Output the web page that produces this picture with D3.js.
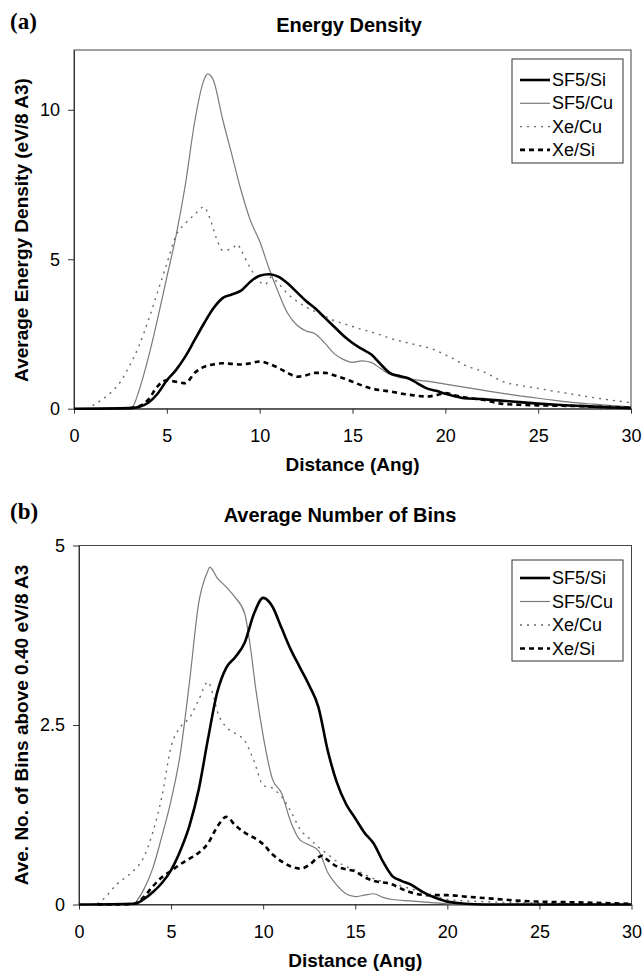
<!DOCTYPE html>
<html>
<head>
<meta charset="utf-8">
<script src="https://cdn.jsdelivr.net/npm/d3@7"></script>
<style>
  body { margin: 0; background: #fff; }
  svg { display: block; font-family: "Liberation Sans", Arial, sans-serif; }
</style>
</head>
<body>
<svg id="chart" width="644" height="973"></svg>
<script>
// series names (legend order)
const seriesNames = ['SF5/Si', 'SF5/Cu', 'Xe/Cu', 'Xe/Si'];

// panel (a) Energy Density, [distance, value]
const energySF5Si = [[0,0],[3,0.02],[3.5,0.06],[4,0.2],[4.5,0.5],[5,0.95],[5.5,1.3],[6,1.75],[6.5,2.3],[7,2.85],[7.5,3.35],[8,3.7],[8.5,3.82],[9,3.95],[9.5,4.25],[10,4.45],[10.5,4.5],[11,4.42],[11.5,4.2],[12,3.9],[12.5,3.6],[13,3.35],[13.5,3.05],[14,2.75],[14.5,2.45],[15,2.2],[15.5,2.0],[16,1.82],[16.5,1.5],[17,1.2],[17.5,1.1],[18,1.02],[18.5,0.85],[19,0.68],[19.5,0.6],[20,0.5],[20.5,0.42],[21,0.35],[22,0.32],[23,0.27],[24,0.22],[25,0.17],[26,0.13],[27,0.1],[28,0.07],[29,0.04],[30,0.02]];
const energySF5Cu = [[3,0],[3.2,0.1],[3.5,0.6],[4,1.7],[4.5,3.0],[5,4.4],[5.5,5.8],[6,7.5],[6.5,9.6],[7,11.0],[7.2,11.2],[7.5,11.0],[8,9.7],[8.5,8.5],[9,7.3],[9.5,6.3],[10,5.6],[10.5,4.7],[11,3.9],[11.5,3.2],[12,2.8],[12.5,2.6],[13,2.5],[13.5,2.2],[14,1.85],[14.5,1.65],[15,1.55],[15.5,1.6],[16,1.55],[16.5,1.35],[17,1.15],[17.5,1.05],[18,1.0],[19,0.92],[20,0.82],[21,0.72],[22,0.62],[23,0.52],[24,0.43],[25,0.35],[26,0.27],[27,0.2],[28,0.15],[29,0.1],[30,0.06]];
const energyXeCu = [[1,0.1],[1.5,0.3],[2,0.55],[2.5,0.9],[3,1.45],[3.5,2.1],[4,2.95],[4.5,3.9],[5,4.85],[5.5,5.8],[6,6.2],[6.5,6.5],[7,6.75],[7.3,6.4],[7.7,5.65],[8,5.3],[8.5,5.35],[8.8,5.5],[9,5.3],[9.5,4.7],[10,4.25],[10.3,4.15],[10.6,4.4],[11,4.2],[11.5,3.85],[12,3.6],[12.5,3.4],[13,3.25],[13.5,3.1],[14,2.95],[14.5,2.85],[15,2.75],[15.5,2.65],[16,2.57],[16.5,2.47],[17,2.36],[18,2.2],[19,2.05],[19.5,1.95],[20,1.8],[20.5,1.65],[21,1.47],[21.5,1.35],[22,1.25],[22.5,1.1],[23,0.93],[24,0.78],[25,0.68],[26,0.57],[27,0.47],[28,0.37],[29,0.28],[30,0.2]];
const energyXeSi = [[3,0.02],[3.5,0.08],[4,0.3],[4.5,0.75],[5,0.95],[5.5,0.9],[6,0.85],[6.5,1.2],[7,1.4],[7.5,1.48],[8,1.52],[8.5,1.5],[9,1.48],[9.5,1.52],[10,1.58],[10.5,1.5],[11,1.37],[11.5,1.2],[12,1.07],[12.5,1.12],[13,1.2],[13.5,1.2],[14,1.12],[14.5,1.02],[15,0.9],[15.5,0.78],[16,0.68],[16.5,0.62],[17,0.58],[18,0.47],[19,0.41],[19.5,0.45],[20,0.52],[20.5,0.45],[21,0.38],[22,0.3],[23,0.17],[24,0.13],[25,0.11],[26,0.1],[27,0.09],[28,0.07],[29,0.05],[30,0.03]];

// panel (b) Average Number of Bins, [distance, value]
const binsSF5Si = [[0,0],[3,0.01],[3.5,0.07],[4,0.17],[4.5,0.3],[5,0.48],[5.5,0.75],[6,1.1],[6.5,1.6],[7,2.3],[7.5,2.95],[8,3.3],[8.5,3.45],[9,3.65],[9.5,4.05],[10,4.27],[10.5,4.15],[11,3.85],[11.5,3.55],[12,3.3],[12.5,3.05],[13,2.75],[13.5,2.15],[14,1.7],[14.5,1.4],[15,1.2],[15.5,1.0],[16,0.85],[16.5,0.6],[17,0.4],[17.5,0.33],[18,0.28],[18.5,0.2],[19,0.13],[19.5,0.08],[20,0.04],[21,0.01],[22,0],[30,0]];
const binsSF5Cu = [[3,0],[3.5,0.2],[4,0.5],[4.5,0.95],[5,1.45],[5.5,2.1],[6,3.1],[6.5,4.2],[7,4.65],[7.1,4.7],[7.5,4.55],[8,4.42],[8.5,4.27],[9,4.05],[9.3,3.6],[9.6,3.0],[10,2.35],[10.5,1.75],[11,1.55],[11.5,1.15],[12,0.9],[12.5,0.83],[13,0.75],[13.5,0.45],[14,0.27],[14.5,0.15],[15,0.11],[15.5,0.13],[16,0.15],[16.5,0.1],[17,0.07],[18,0.05],[19,0.03],[20,0.01],[21,0],[30,0]];
const binsXeCu = [[1,0.01],[1.5,0.12],[2,0.27],[2.5,0.37],[3,0.48],[3.5,0.65],[4,1.0],[4.5,1.5],[5,2.2],[5.5,2.47],[6,2.6],[6.5,2.85],[7,3.1],[7.3,2.9],[7.5,2.7],[8,2.47],[8.5,2.38],[9,2.28],[9.5,2.0],[10,1.66],[10.5,1.62],[11,1.5],[11.5,1.3],[12,1.05],[12.5,0.92],[13,0.8],[13.5,0.7],[14,0.6],[14.5,0.53],[15,0.48],[15.5,0.42],[16,0.36],[16.5,0.32],[17,0.29],[18,0.22],[19,0.14],[20,0.07],[21,0.05],[22,0.04],[23,0.03],[25,0.02],[30,0]];
const binsXeSi = [[1,0],[2,0],[3,0.01],[3.5,0.1],[4,0.25],[4.5,0.38],[5,0.47],[5.5,0.56],[6,0.64],[6.5,0.72],[7,0.85],[7.5,1.08],[8,1.22],[8.5,1.1],[9,1.0],[9.5,0.93],[10,0.84],[10.5,0.7],[11,0.6],[11.5,0.53],[12,0.5],[12.5,0.55],[13,0.66],[13.2,0.68],[13.5,0.62],[14,0.53],[14.5,0.49],[15,0.46],[15.5,0.38],[16,0.33],[17,0.28],[17.5,0.22],[18,0.17],[19,0.13],[20,0.13],[21,0.11],[22,0.09],[23,0.07],[24,0.05],[25,0.04],[27,0.03],[30,0.01]];

// tick values
const xTicks = [0, 5, 10, 15, 20, 25, 30];
const energyTicks = [0, 5, 10];
const binsTicks = [0, 2.5, 5];

// line styles per series
const styles = [
  { stroke: '#000', width: 2.6, dash: null },
  { stroke: '#7a7a7a', width: 1.2, dash: null },
  { stroke: '#6a6a6a', width: 1.4, dash: '2,5' },
  { stroke: '#000', width: 2.6, dash: '5,4' }
];

const svg = d3.select('#chart');

function drawPanel(p) {
  const x = d3.scaleLinear().domain([0, 30]).range([p.left, p.right]);
  const y = d3.scaleLinear().domain(p.yDomain).range([p.bottom, p.top]);
  const g = svg.append('g');

  // panel letter + title
  g.append('text')
    .attr('x', 10).attr('y', p.letterY)
    .style('font-family', '"Liberation Serif", "Times New Roman", serif')
    .style('font-weight', 'bold').style('font-size', '23px')
    .text(p.letter);
  g.append('text')
    .attr('x', p.titleX).attr('y', p.titleY)
    .attr('text-anchor', 'middle')
    .style('font-weight', 'bold').style('font-size', '20px')
    .text(p.title);

  // plot frame
  g.append('rect')
    .attr('x', p.left).attr('y', p.top)
    .attr('width', p.right - p.left).attr('height', p.bottom - p.top)
    .attr('fill', 'none').attr('stroke', '#444').attr('stroke-width', 1);

  // axes
  const xAxis = g.append('g')
    .attr('transform', `translate(0,${p.bottom})`)
    .call(d3.axisBottom(x).tickValues(xTicks).tickSize(5).tickPadding(16).tickSizeOuter(0));
  const yAxis = g.append('g')
    .attr('transform', `translate(${p.left},0)`)
    .call(d3.axisLeft(y).tickValues(p.yTicks).tickSize(6).tickPadding(8).tickSizeOuter(0)
      .tickFormat(d => String(d)));
  [xAxis, yAxis].forEach(a => {
    a.selectAll('text').style('font-size', '18px').style('font-family', '"Liberation Sans", Arial, sans-serif').attr('fill', '#000');
    a.selectAll('line, path').attr('stroke', '#333');
  });

  // axis titles
  g.append('text')
    .attr('x', (p.left + p.right) / 2).attr('y', p.xTitleY)
    .attr('text-anchor', 'middle')
    .style('font-weight', 'bold').style('font-size', '19px')
    .text('Distance (Ang)');
  g.append('text')
    .attr('transform', `translate(${p.yTitleX},${p.yTitleY}) rotate(-90)`)
    .attr('text-anchor', 'middle')
    .style('font-weight', 'bold').style('font-size', '19px')
    .text(p.yTitle);

  // series lines
  const line = d3.line()
    .x(d => x(d[0])).y(d => y(d[1]))
    .curve(d3.curveMonotoneX);
  const order = [1, 2, 3, 0];
  order.forEach(i => {
    g.append('path')
      .datum(p.series[i])
      .attr('d', line)
      .attr('fill', 'none')
      .attr('stroke', styles[i].stroke)
      .attr('stroke-width', styles[i].width)
      .attr('stroke-dasharray', styles[i].dash);
  });

  // legend
  const lg = g.append('g');
  lg.append('rect')
    .attr('x', p.legend.x).attr('y', p.legend.y)
    .attr('width', 111).attr('height', p.legend.h)
    .attr('fill', '#fff').attr('stroke', '#333').attr('stroke-width', 1);
  seriesNames.forEach((name, i) => {
    const yy = p.legend.y + p.legend.first + i * p.legend.step;
    lg.append('line')
      .attr('x1', p.legend.x + 8).attr('x2', p.legend.x + 38)
      .attr('y1', yy).attr('y2', yy)
      .attr('stroke', styles[i].stroke)
      .attr('stroke-width', styles[i].width)
      .attr('stroke-dasharray', styles[i].dash);
    lg.append('text')
      .attr('x', p.legend.x + 40).attr('y', yy + 6)
      .style('font-size', '18px')
      .text(name);
  });
}

drawPanel({
  letter: '(a)', letterY: 29, title: 'Energy Density', titleX: 349, titleY: 32,
  left: 74, right: 631, top: 50, bottom: 408.7,
  yDomain: [0, 12], yTicks: energyTicks,
  xTitleY: 471, yTitleX: 28, yTitleY: 230, yTitle: 'Average Energy Density (eV/8 A3)',
  series: [energySF5Si, energySF5Cu, energyXeCu, energyXeSi],
  legend: { x: 512, y: 59, h: 104, first: 21, step: 23.3 }
});

drawPanel({
  letter: '(b)', letterY: 519, title: 'Average Number of Bins', titleX: 340, titleY: 522,
  left: 79, right: 631.5, top: 545.5, bottom: 904.5,
  yDomain: [0, 5], yTicks: binsTicks,
  xTitleY: 967, yTitleX: 28, yTitleY: 725, yTitle: 'Ave. No. of Bins above 0.40 eV/8 A3',
  series: [binsSF5Si, binsSF5Cu, binsXeCu, binsXeSi],
  legend: { x: 512, y: 560, h: 101, first: 18, step: 23.5 }
});
</script>
</body>
</html>
